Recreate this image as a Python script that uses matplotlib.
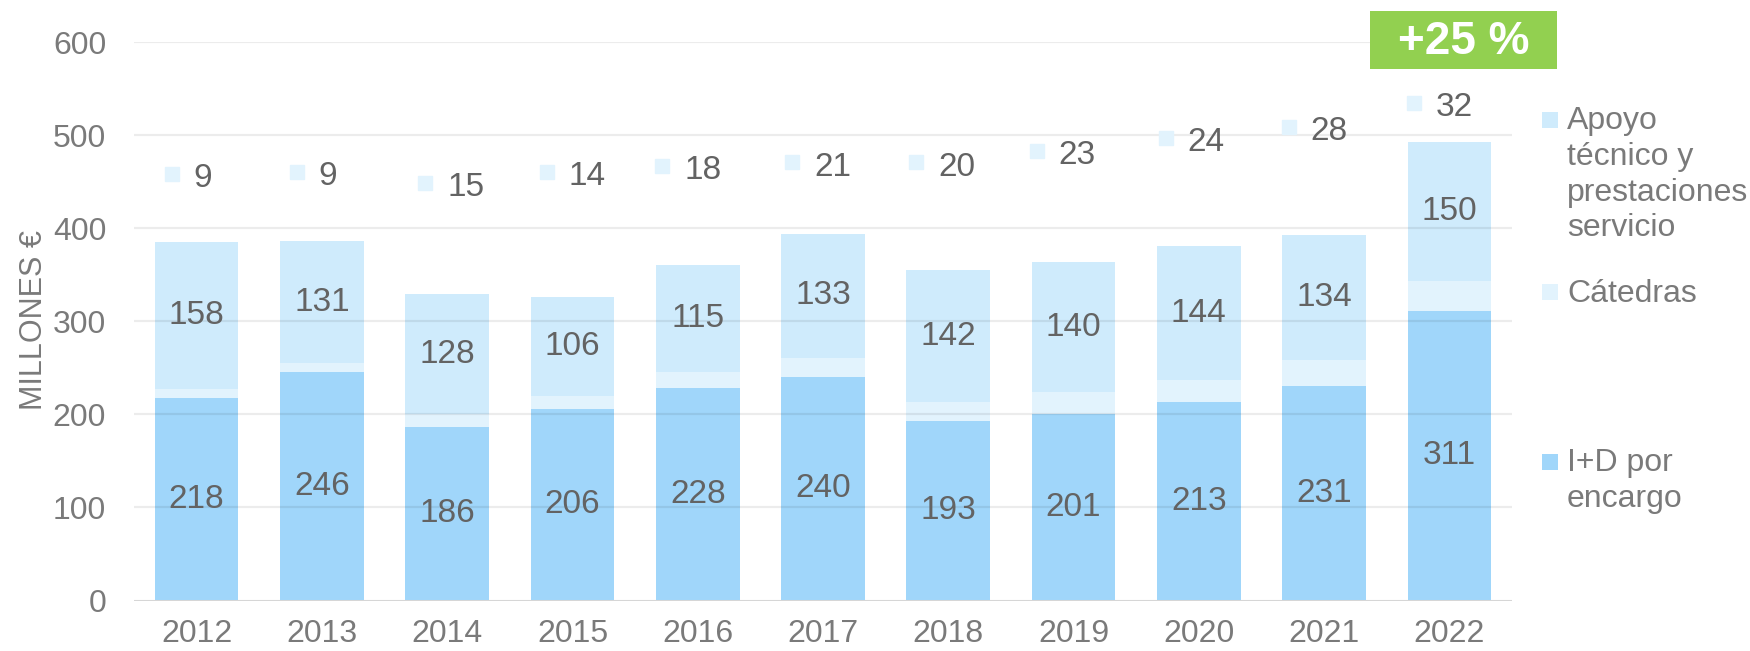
import matplotlib
matplotlib.use("Agg")
import matplotlib.pyplot as plt
from matplotlib.patches import Rectangle
import numpy as np

plt.rcParams['font.family'] = ['Liberation Sans', 'DejaVu Sans']

# ---- data ----
years = ["2012", "2013", "2014", "2015", "2016", "2017", "2018", "2019", "2020", "2021", "2022"]
id_encargo = [218, 246, 186, 206, 228, 240, 193, 201, 213, 231, 311]
catedras = [9, 9, 15, 14, 18, 21, 20, 23, 24, 28, 32]
apoyo = [158, 131, 128, 106, 115, 133, 142, 140, 144, 134, 150]
growth_label = "+25 %"
legend_labels = ["Apoyo\ntécnico y\nprestaciones\nservicio", "Cátedras", "I+D por\nencargo"]
yticks = [0, 100, 200, 300, 400, 500, 600]

# ---- layout (label placement, not data) ----
cat_label_y = [454, 456, 444, 456, 462, 466, 466, 478, 492, 504, 530]
cat_label_dx = [0.05, 0.05, 0.15, 0.12, 0.04, 0.08, 0.07, 0.03, 0.06, 0.04, 0.04]

c_id = "#A0D6FA"
c_cat = "#E2F3FD"
c_apo = "#CFEBFC"
c_lab = "#636363"
c_tick = "#7a7a7a"

W, H = 1750, 651
fig = plt.figure(figsize=(W / 100, H / 100), dpi=100)
ax = fig.add_axes([134 / W, 1 - 600.5 / H, (1512 - 134) / W, (600.5 - 42.4) / H])

x = np.arange(len(years))
bw = 0.667
id_arr = np.array(id_encargo)
cat_arr = np.array(catedras)
apo_arr = np.array(apoyo)

ax.bar(x, id_arr, bw, color=c_id, zorder=2)
ax.bar(x, cat_arr, bw, bottom=id_arr, color=c_cat, zorder=2)
ax.bar(x, apo_arr, bw, bottom=id_arr + cat_arr, color=c_apo, zorder=2)

ax.set_xlim(-0.5, len(years) - 0.5)
ax.set_ylim(0, 600)
ax.set_yticks(yticks)
ax.set_xticks(x)
ax.set_xticklabels(years)
ax.tick_params(axis='both', length=0, labelsize=23, colors=c_tick)
ax.tick_params(axis='y', pad=20)
ax.tick_params(axis='x', pad=13)
for s in ax.spines.values():
    s.set_visible(False)
for t in yticks[1:]:
    ax.axhline(t, color="black", alpha=0.075, lw=1.6, zorder=3)
ax.axhline(0, color="#D6D6D6", lw=2.2, zorder=3)

ax.set_ylabel("MILLONES €", fontsize=22, color=c_tick)
ax.yaxis.set_label_coords(-0.0615, 0.503)

# bar labels
for i in range(len(years)):
    ax.text(x[i], id_arr[i] / 2, str(id_arr[i]), ha='center', va='center',
            fontsize=24, color=c_lab, zorder=4)
    ax.text(x[i], id_arr[i] + cat_arr[i] + apo_arr[i] / 2, str(apo_arr[i]),
            ha='center', va='center', fontsize=24, color=c_lab, zorder=4)
    # catedras labels with legend key
    tx = x[i] + cat_label_dx[i]
    ax.text(tx, cat_label_y[i], str(cat_arr[i]), ha='center', va='center',
            fontsize=24, color=c_lab, zorder=4)
    nchar = len(str(cat_arr[i]))
    sq_dx = (nchar * 9.3 + 22) / 125.3
    ax.plot([tx - sq_dx], [cat_label_y[i] + 5], marker='s', markersize=10.4,
            color=c_cat, linestyle='none', zorder=4)

# growth box
bx0, bx1, by0, by1 = 1370, 1557, 11, 69
fig.patches.append(Rectangle((bx0 / W, 1 - by1 / H), (bx1 - bx0) / W, (by1 - by0) / H,
                             transform=fig.transFigure, facecolor="#92D050",
                             edgecolor="none", zorder=5))
fig.text((bx0 + bx1) / 2 / W, 1 - 42 / H, growth_label, ha='center', va='center',
         fontsize=33, fontweight='bold', color='white', zorder=6)

# legend (manual)
leg_colors = [c_apo, c_cat, c_id]
leg_first_center = [120, 292, 462]
sq = 16
for lab, col, cy in zip(legend_labels, leg_colors, leg_first_center):
    fig.patches.append(Rectangle((1550 / W - sq / 2 / W, 1 - (cy + sq / 2) / H),
                                 sq / W, sq / H, transform=fig.transFigure,
                                 facecolor=col, edgecolor='none'))
    fig.text(1567 / W, 1 - (cy - 13.5) / H, lab, ha='left', va='top', fontsize=23,
             color=c_tick, linespacing=1.24)

fig.savefig("out.png", dpi=100)
